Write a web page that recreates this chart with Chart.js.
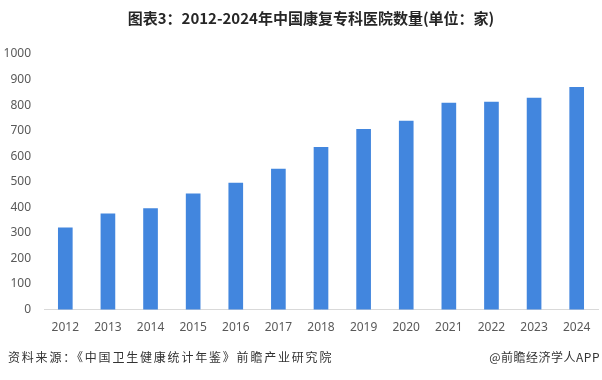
<!DOCTYPE html>
<html><head><meta charset="utf-8">
<script src="https://cdn.jsdelivr.net/npm/chart.js@4/dist/chart.umd.min.js"></script>
<style>
html,body{margin:0;padding:0;background:#fff;}
#wrap{position:relative;width:602px;height:380px;overflow:hidden;font-family:"Noto Sans CJK SC","Noto Sans",sans-serif;}
#title{position:absolute;top:7px;left:0;width:622px;text-align:center;font-weight:bold;font-size:15px;color:#262626;}
#src{position:absolute;top:348px;left:8px;font-size:12px;color:#333;letter-spacing:1.8px;}
#app{position:absolute;top:348px;right:2px;font-size:12px;color:#333;letter-spacing:0.5px;}
canvas{position:absolute;left:0;top:0;}
</style></head>
<body><div id="wrap">
<canvas id="c" width="602" height="380"></canvas>
<div id="title">图表3：2012-2024年中国康复专科医院数量(单位：家)</div>
<div id="src">资料来源：《中国卫生健康统计年鉴》前瞻产业研究院</div>
<div id="app">@前瞻经济学人APP</div>
</div>
<script>
const categories = ["2012","2013","2014","2015","2016","2017","2018","2019","2020","2021","2022","2023","2024"];
const hospitals = [320, 375, 395, 453, 495, 550, 635, 705, 738, 808, 812, 828, 870];
const yTicks = [0,100,200,300,400,500,600,700,800,900,1000];

new Chart(document.getElementById('c'), {
  type: 'bar',
  data: { labels: categories, datasets: [{ data: hospitals, backgroundColor: '#4286DE', barThickness: 14 }] },
  options: {
    responsive: false, animation: false,
    layout: { padding: { top: 54, bottom: 34, left: 0, right: 4 } },
    plugins: { legend: { display: false }, tooltip: { enabled: false }, title: { display: false } },
    scales: {
      x: {
        grid: { display: false, drawTicks: false },
        border: { color: '#d9d9d9', width: 1 },
        ticks: { color: '#595959', font: { size: 12, family: 'Noto Sans' }, padding: 11 }
      },
      y: {
        min: 0, max: 1000,
        afterFit: a => { a.width = 44; },
        afterBuildTicks: a => { a.ticks = yTicks.map(v => ({ value: v })); },
        grid: { display: false, drawTicks: false },
        border: { display: false },
        ticks: { color: '#595959', font: { size: 12, family: 'Noto Sans' }, padding: 13, callback: v => String(v) }
      }
    }
  }
});
</script>
</body></html>
